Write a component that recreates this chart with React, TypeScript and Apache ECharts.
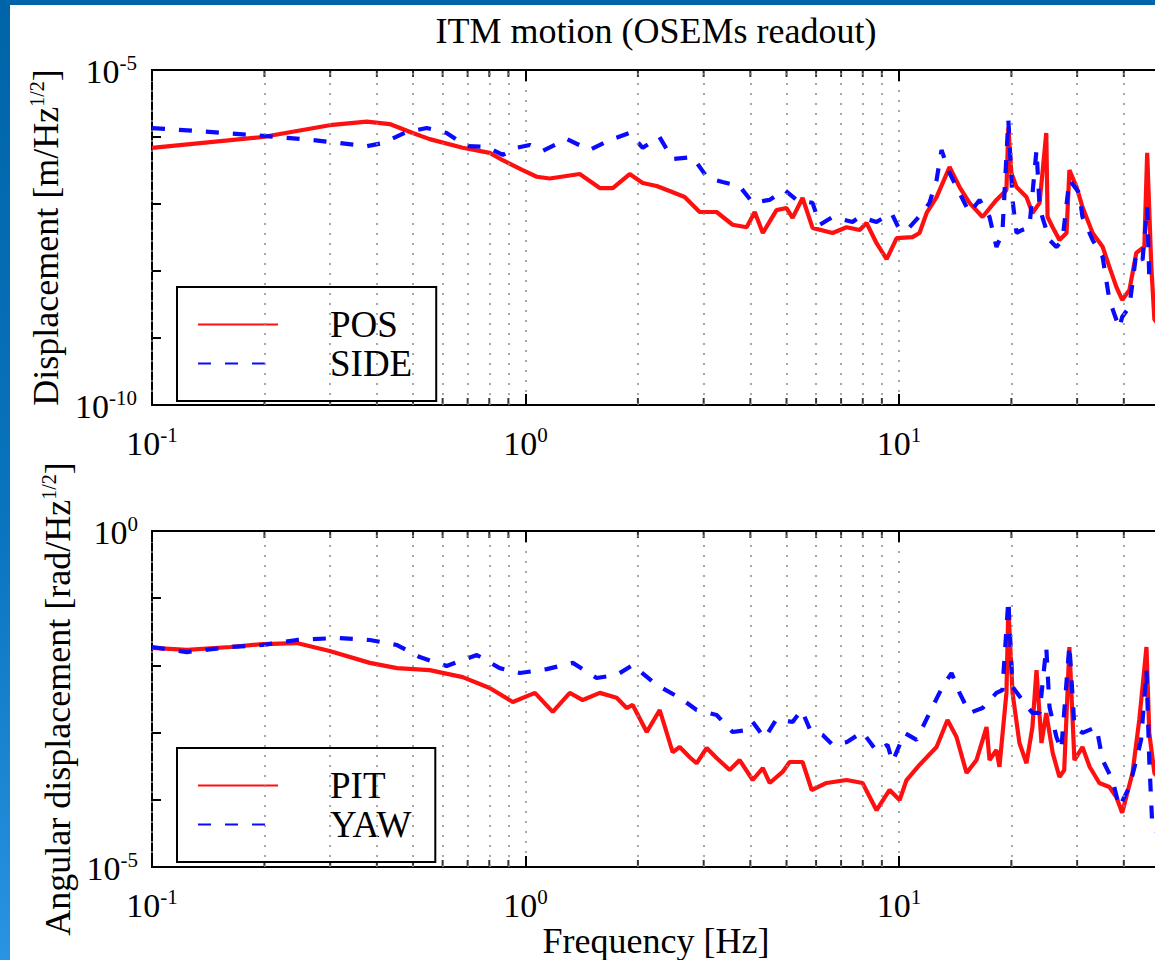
import React, { useEffect, useRef } from "react";
import * as echarts from "echarts";

// ---------- data ----------
// Top panel: displacement [m/Hz^1/2]
const posFreq = [0.1, 0.198, 0.299, 0.376, 0.433, 0.499, 0.554, 0.679, 0.802, 0.869, 0.983, 1.072, 1.161, 1.397, 1.581, 1.713, 1.901, 2.06, 2.245, 2.432, 2.668, 2.927, 3.249, 3.586, 3.91, 4.11, 4.32, 4.7, 5.0, 5.19, 5.52, 5.87, 6.64, 7.24, 7.85, 8.19, 8.71, 9.27, 9.86, 10.87, 11.35, 11.86, 12.61, 13.66, 14.53, 15.45, 16.74, 18.24, 19.4, 19.63, 20.0, 20.64, 21.95, 22.77, 23.8, 24.8, 25.0, 25.8, 26.9, 28.1, 28.6, 29.9, 31.0, 33.0, 35.1, 36.6, 38.2, 39.6, 41.4, 43.2, 45.4, 46.2, 47.4, 48.3, 50];
const posVal = [6.9e-7, 1.0e-6, 1.5e-6, 1.7e-6, 1.56e-6, 1.15e-6, 9.3e-7, 6.9e-7, 5.8e-7, 4.5e-7, 3.2e-7, 2.55e-7, 2.4e-7, 2.8e-7, 1.73e-7, 1.73e-7, 2.8e-7, 2.06e-7, 1.86e-7, 1.56e-7, 1.27e-7, 7.6e-8, 7.6e-8, 4.9e-8, 4.5e-8, 7.6e-8, 3.7e-8, 8.1e-8, 8.7e-8, 6.2e-8, 1.23e-7, 4.4e-8, 3.7e-8, 4.5e-8, 4.1e-8, 5.2e-8, 2.6e-8, 1.5e-8, 3.1e-8, 3.2e-8, 3.7e-8, 7.35e-8, 1.27e-7, 3.56e-7, 1.79e-7, 1.04e-7, 6.4e-8, 1.15e-7, 1.62e-7, 1.4e-6, 2.9e-7, 1.79e-7, 1.27e-7, 7.35e-8, 1.04e-7, 1.15e-6, 6.4e-8, 4.5e-8, 2.9e-8, 3.7e-8, 3.2e-7, 1.79e-7, 9.0e-8, 3.7e-8, 2.3e-8, 1.15e-8, 5.8e-9, 3.7e-9, 5.2e-9, 1.86e-8, 2.3e-8, 5.8e-7, 1.15e-8, 1.9e-9, 1.5e-9];

const sideFreq = [0.1, 0.132, 0.198, 0.27, 0.376, 0.415, 0.481, 0.544, 0.615, 0.696, 0.788, 0.869, 0.948, 1.027, 1.112, 1.29, 1.486, 1.681, 1.901, 2.06, 2.284, 2.478, 2.804, 3.074, 3.37, 3.74, 4.06, 4.5, 4.94, 5.32, 5.87, 6.14, 6.64, 7.51, 7.85, 8.71, 9.55, 10.04, 10.67, 11.56, 12.07, 12.61, 13.0, 13.66, 14.53, 15.45, 16.44, 17.48, 18.24, 18.92, 19.63, 20.14, 20.64, 21.4, 22.35, 23.35, 23.8, 24.2, 25.3, 26.4, 27.4, 28.6, 30.4, 31.0, 33.0, 35.1, 36.6, 38.9, 39.6, 41.4, 43.2, 44.9, 46.2, 46.8, 50];
const sideVal = [1.36e-6, 1.23e-6, 1.04e-6, 9.0e-7, 7.3e-7, 8.1e-7, 1.19e-6, 1.36e-6, 1.15e-6, 7.3e-7, 7.1e-7, 5.4e-7, 6.9e-7, 7.6e-7, 6.2e-7, 9.3e-7, 6.4e-7, 9.0e-7, 1.15e-6, 6.9e-7, 1.0e-6, 4.7e-7, 5.0e-7, 2.44e-7, 2.13e-7, 1.86e-7, 1.04e-7, 1.15e-7, 1.62e-7, 1.15e-7, 1.04e-7, 4.9e-8, 6.4e-8, 5.4e-8, 6.4e-8, 5.4e-8, 7.35e-8, 4.1e-8, 4.5e-8, 7.35e-8, 1.04e-7, 2.28e-7, 6.4e-7, 2.9e-7, 1.46e-7, 7.35e-8, 1.15e-7, 6.4e-8, 2.28e-8, 3.7e-8, 1.8e-6, 1.15e-7, 3.7e-8, 4.1e-8, 4.5e-8, 6.4e-7, 9.0e-8, 6.4e-8, 2.9e-8, 2.28e-8, 2.9e-8, 2.28e-7, 1.46e-7, 6.4e-8, 2.9e-8, 1.62e-8, 3.7e-9, 1.41e-9, 2.06e-9, 2.9e-9, 1.86e-8, 1.46e-8, 9.0e-8, 8.1e-9, 7e-9];

// Bottom panel: angular displacement [rad/Hz^1/2]
const pitFreq = [0.1, 0.124, 0.162, 0.198, 0.244, 0.299, 0.383, 0.453, 0.554, 0.679, 0.802, 0.925, 1.06, 1.183, 1.314, 1.423, 1.581, 1.754, 1.866, 1.937, 2.112, 2.288, 2.478, 2.588, 2.753, 2.873, 3.056, 3.249, 3.522, 3.745, 4.058, 4.32, 4.506, 4.88, 5.096, 5.52, 5.84, 6.4, 7.24, 7.99, 8.71, 9.44, 10.04, 10.48, 11.35, 12.61, 13.49, 14.26, 15.17, 16.13, 17.16, 17.48, 18.24, 18.58, 19.4, 19.63, 20.14, 21.02, 21.95, 22.77, 23.35, 24.08, 24.8, 25.8, 26.9, 27.7, 28.6, 29.5, 31.0, 32.4, 34.4, 36.6, 38.2, 39.6, 42.2, 44.0, 46.0, 46.8, 48.3, 50];
const pitVal = [1.82e-2, 1.7e-2, 1.88e-2, 2.08e-2, 2.15e-2, 1.64e-2, 1.09e-2, 9.1e-3, 8.5e-3, 6.7e-3, 4.6e-3, 2.85e-3, 3.9e-3, 2.03e-3, 3.9e-3, 3.05e-3, 3.9e-3, 3.3e-3, 2.32e-3, 2.58e-3, 1.02e-3, 2.17e-3, 5.1e-4, 6.1e-4, 4.3e-4, 3.5e-4, 5.9e-4, 4.2e-4, 2.77e-4, 3.9e-4, 1.97e-4, 2.97e-4, 1.78e-4, 2.6e-4, 3.65e-4, 3.65e-4, 1.4e-4, 1.78e-4, 1.97e-4, 1.78e-4, 7.0e-5, 1.4e-4, 9.9e-5, 1.97e-4, 3.3e-4, 6.1e-4, 1.54e-3, 8.6e-4, 2.5e-4, 3.9e-4, 1.21e-3, 3.9e-4, 5.5e-4, 3.1e-4, 3.9e-3, 7.4e-2, 3.9e-3, 7.0e-4, 3.5e-4, 1.21e-3, 8.5e-3, 7.0e-4, 1.96e-3, 5.0e-4, 2.18e-4, 2.77e-4, 1.88e-2, 3.9e-4, 6.1e-4, 3.1e-4, 1.78e-4, 1.55e-4, 1.1e-4, 6.4e-5, 2.5e-4, 1.54e-3, 1.88e-2, 9.9e-4, 2.5e-4, 2e-4];

const yawFreq = [0.1, 0.124, 0.162, 0.198, 0.244, 0.313, 0.383, 0.453, 0.521, 0.615, 0.741, 0.853, 0.966, 1.14, 1.339, 1.551, 1.754, 1.937, 2.245, 2.588, 2.873, 3.249, 3.586, 3.91, 4.058, 4.37, 4.7, 5.19, 5.49, 5.77, 6.25, 6.64, 7.24, 7.99, 8.71, 9.32, 9.61, 10.35, 11.15, 12.07, 13.08, 13.83, 14.53, 15.45, 16.74, 18.24, 18.92, 19.63, 20.14, 21.4, 22.77, 23.8, 24.8, 25.3, 26.4, 27.2, 28.6, 29.5, 31.0, 33.8, 35.1, 37.3, 38.9, 41.4, 43.2, 44.5, 46.0, 46.8, 47.7, 50];
const yawVal = [1.88e-2, 1.58e-2, 1.88e-2, 2.01e-2, 2.39e-2, 2.56e-2, 2.39e-2, 2.01e-2, 1.33e-2, 9.8e-3, 1.43e-2, 9.1e-3, 7.7e-3, 8.8e-3, 1.09e-2, 6.5e-3, 7.2e-3, 1.01e-2, 5.1e-3, 3.3e-3, 2.17e-3, 1.83e-3, 1.02e-3, 1.09e-3, 1.44e-3, 8.3e-4, 1.59e-3, 1.44e-3, 2.17e-3, 1.13e-3, 9.2e-4, 6.6e-4, 7.2e-4, 1.02e-3, 5.3e-4, 6.6e-4, 3.65e-4, 9.9e-4, 7.8e-4, 1.96e-3, 4.8e-3, 7.7e-3, 3.9e-3, 1.96e-3, 2.32e-3, 3.9e-3, 4.3e-3, 9.4e-2, 4.8e-3, 3.05e-3, 1.96e-3, 1.96e-3, 1.88e-2, 2.4e-3, 8.6e-4, 5.5e-4, 2.01e-2, 1.21e-3, 9.9e-4, 1.21e-3, 3.9e-4, 1.97e-4, 7.8e-5, 1.55e-4, 3.9e-4, 7.8e-4, 8.5e-3, 3.9e-4, 3.9e-5, 3e-5];

// axis ranges and minor grid positions
const xRange = [0.1, 50];
const topRange = [1e-10, 1e-5];
const botRange = [1e-5, 1];
const minorGrid = [0.2, 0.3, 0.4, 0.5, 0.6, 0.7, 0.8, 0.9, 2, 3, 4, 5, 6, 7, 8, 9, 20, 30, 40];

const titleText = "ITM motion (OSEMs readout)";
const xName = "Frequency [Hz]";
const topYName = "{a|Displacement [m/Hz}{s|1/2}{a|]}";
const botYName = "{a|Angular displacement [rad/Hz}{s|1/2}{a|]}";

const FONT = "'Liberation Serif', 'Times New Roman', serif";
const RED = "#ff1010";
const BLUE = "#0a0aff";

function pow10Label(v: number): string {
  const e = Math.log10(v);
  const r = Math.round(e);
  if (Math.abs(e - r) > 0.02) return "";
  return `{b|10}{s|${r}}`;
}

const tickRich = {
  b: { fontFamily: FONT, fontSize: 34, color: "#000", verticalAlign: "bottom", lineHeight: 36 },
  s: { fontFamily: FONT, fontSize: 21, color: "#000", verticalAlign: "bottom", lineHeight: 21, padding: [0, 0, 15, 0] },
};

const nameRich = {
  a: { fontFamily: FONT, fontSize: 36, color: "#000", verticalAlign: "bottom", lineHeight: 38 },
  s: { fontFamily: FONT, fontSize: 20, color: "#000", verticalAlign: "bottom", lineHeight: 20, padding: [0, 0, 17, 0] },
};

const dotted = { color: "#8a8a8a", type: [2, 8] as number[], width: 1.5 };
const tickLine = { color: "#000", width: 2 };

function zip(xs: number[], ys: number[]) {
  return xs.map((x, i) => [x, ys[i]]);
}

function bottomX(gridIndex: number, margin: number, name: string) {
  return {
    type: "log", logBase: 10, gridIndex, min: xRange[0], max: xRange[1], position: "bottom",
    axisLine: { show: false },
    axisTick: { show: true, inside: true, length: 11, lineStyle: tickLine },
    axisLabel: { show: true, margin, formatter: pow10Label, rich: tickRich },
    splitLine: { show: true, lineStyle: dotted },
    name, nameLocation: "middle", nameGap: 52,
    nameTextStyle: { fontFamily: FONT, fontSize: 36, color: "#000" },
  };
}

function topX(gridIndex: number) {
  return {
    type: "log", logBase: 10, gridIndex, min: xRange[0], max: xRange[1], position: "top",
    axisLine: { show: false },
    axisTick: { show: true, inside: true, length: 11, lineStyle: tickLine },
    axisLabel: { show: false },
    splitLine: { show: false },
  };
}

function leftY(gridIndex: number, range: number[], margin: number, name: string, nameGap: number) {
  const lo = Math.round(Math.log10(range[0]));
  const hi = Math.round(Math.log10(range[1]));
  return {
    type: "log", logBase: 10, gridIndex, min: range[0], max: range[1], position: "left",
    axisLine: { show: false },
    axisTick: { show: true, inside: true, length: 9, lineStyle: tickLine },
    axisLabel: {
      margin,
      rich: tickRich,
      formatter: (v: number) => {
        const r = Math.round(Math.log10(v));
        return r === lo || r === hi ? pow10Label(v) : "";
      },
    },
    splitLine: { show: false },
    name, nameLocation: "middle", nameRotate: 90, nameGap,
    nameTextStyle: { fontFamily: FONT, fontSize: 36, color: "#000", rich: nameRich },
  };
}

function edgeTicks(xIdx: number, yIdx: number, yVal: number, offset: number, withGrid: boolean) {
  const s: any = {
    type: "scatter", xAxisIndex: xIdx, yAxisIndex: yIdx, silent: true, clip: false,
    symbol: "rect", symbolSize: [2, 7], symbolOffset: [0, offset],
    itemStyle: { color: "#000" }, z: 1,
    data: minorGrid.map((f) => [f, yVal]),
  };
  if (withGrid) {
    s.markLine = {
      silent: true, symbol: ["none", "none"], label: { show: false },
      lineStyle: dotted, animation: false,
      data: minorGrid.map((f) => ({ xAxis: f })),
    };
  }
  return s;
}

const legendBase = {
  orient: "vertical", selectedMode: false, backgroundColor: "#fff",
  borderColor: "#000", borderWidth: 2, borderRadius: 0,
  padding: [19, 24, 19, 20], itemWidth: 80, itemHeight: 20, itemGap: 2,
  itemStyle: { opacity: 0 },
  textStyle: { fontFamily: FONT, fontSize: 37, color: "#000", lineHeight: 30, padding: [0, 0, 0, 47] },
};

export default function App() {
  const ref = useRef<HTMLDivElement>(null);

  useEffect(() => {
    document.body.style.margin = "0";
    if (!ref.current) return;
    const chart = echarts.init(ref.current, undefined, { renderer: "svg" });
    const redLine = { color: RED, width: 4.2 };
    const blueLine = { color: BLUE, width: 4.2, type: [13, 14] as number[] };
    chart.setOption({
      animation: false,
      backgroundColor: "transparent",
      graphic: [
        {
          type: "text", x: 656, y: 31, z: 10,
          style: {
            text: titleText, fontFamily: FONT, fontSize: 36, fill: "#000",
            align: "center", verticalAlign: "middle", textAlign: "center", textVerticalAlign: "middle",
          },
        },
      ],
      grid: [
        { left: 152, top: 70, width: 1008, height: 335, show: true, borderColor: "#000", borderWidth: 2, backgroundColor: "transparent" },
        { left: 152, top: 531, width: 1008, height: 336, show: true, borderColor: "#000", borderWidth: 2, backgroundColor: "transparent" },
      ],
      xAxis: [bottomX(0, 19, ""), topX(0), bottomX(1, 19, xName), topX(1)],
      yAxis: [
        leftY(0, topRange, 15, topYName, 84),
        leftY(1, botRange, 14, botYName, 66),
      ],
      legend: [
        { ...legendBase, data: ["POS", "SIDE"], left: 177, top: 287 },
        { ...legendBase, data: ["PIT", "YAW"], left: 177, top: 748 },
      ],
      series: [
        edgeTicks(1, 0, topRange[1], 3.5, true),
        edgeTicks(0, 0, topRange[0], -3.5, false),
        edgeTicks(3, 1, botRange[1], 3.5, true),
        edgeTicks(2, 1, botRange[0], -3.5, false),
        { name: "POS", type: "line", xAxisIndex: 0, yAxisIndex: 0, data: zip(posFreq, posVal), symbol: "none", lineStyle: redLine, itemStyle: { color: RED }, z: 3 },
        { name: "SIDE", type: "line", xAxisIndex: 0, yAxisIndex: 0, data: zip(sideFreq, sideVal), symbol: "none", lineStyle: blueLine, itemStyle: { color: BLUE }, z: 4 },
        { name: "PIT", type: "line", xAxisIndex: 2, yAxisIndex: 1, data: zip(pitFreq, pitVal), symbol: "none", lineStyle: redLine, itemStyle: { color: RED }, z: 3 },
        { name: "YAW", type: "line", xAxisIndex: 2, yAxisIndex: 1, data: zip(yawFreq, yawVal), symbol: "none", lineStyle: blueLine, itemStyle: { color: BLUE }, z: 4 },
      ],
    });
    return () => chart.dispose();
  }, []);

  return (
    <div
      style={{
        position: "relative", width: 1155, height: 960, overflow: "hidden",
        background: "linear-gradient(to bottom, #0064a8 0%, #0a74bf 55%, #2a93e2 100%)",
      }}
    >
      <div style={{ position: "absolute", left: 10, top: 5, right: 0, bottom: 0, background: "#fff" }} />
      <div ref={ref} style={{ position: "absolute", left: 0, top: 0, width: 1200, height: 960 }} />
    </div>
  );
}
